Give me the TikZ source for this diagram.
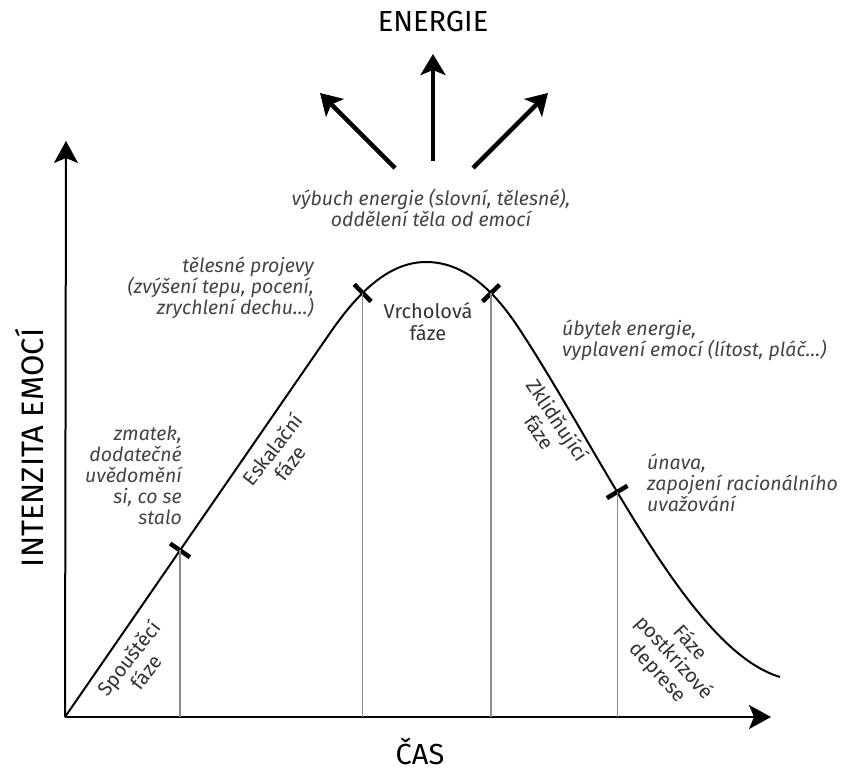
\documentclass[tikz,border=0pt]{standalone}
\usepackage{fontspec}
\setmainfont{Fira Sans}
\usetikzlibrary{arrows.meta}
\definecolor{txtc}{HTML}{333333}
\definecolor{notec}{HTML}{444444}
\definecolor{guidec}{HTML}{8C8C8C}
\begin{document}
\begin{tikzpicture}[x=1pt,y=-1pt,
  axis/.style={line width=2pt, -{Stealth[length=22pt,width=24pt,inset=5pt]}},
  energy/.style={line width=4.5pt, -{Stealth[length=21pt,width=25pt,inset=5pt]}},
  curve/.style={line width=2pt, line join=round},
  tickmark/.style={fill=black, minimum width=4.5pt, minimum height=24pt, inner sep=0pt, sloped},
  guide/.style={draw=guidec, line width=1.2pt},
  title/.style={font=\fontsize{29}{32}\selectfont, text=black, inner sep=0pt},
  phase/.style={font=\fontsize{20}{22}\selectfont, text=txtc, align=center, inner sep=0pt},
  note/.style={font=\fontsize{19.5}{21}\selectfont\itshape, text=notec, inner sep=0pt},
]
\useasboundingbox (0,0) rectangle (847,773);
% axes
\coordinate (O) at (65,717);
\coordinate (Ytop) at (66,141);
\coordinate (Xend) at (771,717);
\draw[axis] (O) -- (Ytop);
\draw[axis] (O) -- (Xend);
% curve
\draw[curve] (O) -- node[tickmark, pos=0.434] (t1) {} (330,333)
  .. controls (357,294) and (388,262) .. node[tickmark, pos=0.38] (t2) {} (426,262)
  .. controls (464,262) and (494,290) .. node[tickmark, pos=0.65] (t3) {} (520,330)
  .. controls (605,460) and (690,650) .. node[tickmark, pos=0.38] (t4) {} (780,677);
% guides
\draw[guide] (t1.center) -- (t1.center |- O);
\draw[guide] (t2.center) -- (t2.center |- O);
\draw[guide] (t3.center) -- (t3.center |- O);
\draw[guide] (t4.center) -- (t4.center |- O);
% energy arrows
\coordinate (eL0) at (395,168); \coordinate (eL1) at (320,93);
\coordinate (eM0) at (433,161); \coordinate (eM1) at (433,54);
\coordinate (eR0) at (473,168); \coordinate (eR1) at (548,93);
\draw[energy] (eL0) -- (eL1);
\draw[energy] (eM0) -- (eM1);
\draw[energy] (eR0) -- (eR1);
% titles
\node[title] (energie) at (433,22) {ENERGIE};
\node[title, rotate=90, font=\fontsize{31}{34}\selectfont] (intenzita) at (30,448) {INTENZITA EMOCÍ};
\node[title] (cas) at (420,751) {ČAS};
% phases
\node[phase, rotate=52] (spoust) at (137,665) {Spouštěcí\\fáze};
\node[phase, rotate=52] (eskal) at (281,456) {Eskalační\\fáze};
\node[phase] (vrchol) at (428,322) {Vrcholová\\fáze};
\node[phase, rotate=-56] (zklid) at (549,426) {Zklidňující\\fáze};
\node[phase, rotate=-48] (postkr) at (674,658) {Fáze\\postkrizové\\deprese};
% notes
\node[note, align=center] (vybuch) at (431,208) {výbuch energie (slovní, tělesné),\\oddělení těla od emocí};
\node[note, align=right, anchor=east] (telesne) at (314,288) {tělesné projevy\\(zvýšení tepu, pocení,\\zrychlení dechu…)};
\node[note, align=right, anchor=east] (zmatek) at (182,475) {zmatek,\\dodatečné\\uvědomění\\si, co se\\stalo};
\node[note, align=left, anchor=west] (ubytek) at (562,340) {úbytek energie,\\vyplavení emocí (lítost, pláč…)};
\node[note, align=left, anchor=west] (unava) at (647,483) {únava,\\zapojení racionálního\\uvažování};
\end{tikzpicture}
\end{document}
